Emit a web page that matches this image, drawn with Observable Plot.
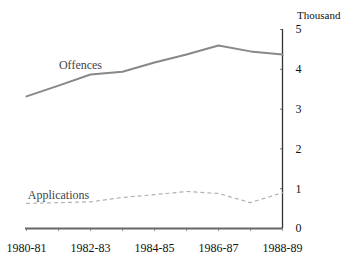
<!DOCTYPE html>
<html>
<head>
<meta charset="utf-8">
<script src="https://cdn.jsdelivr.net/npm/d3@7"></script>
<script src="https://cdn.jsdelivr.net/npm/@observablehq/plot@0.6"></script>
<style>
  html, body { margin: 0; padding: 0; background: #fff; }
  #chart { width: 343px; height: 255px; position: relative; }
  #unit { position: absolute; left: 297px; top: 8px; font-family: 'Times New Roman', 'Liberation Serif', serif; font-size: 11px; line-height: 14px; color: #111; }
  #chart svg text { font-family: 'Times New Roman', 'Liberation Serif', serif; }
</style>
</head>
<body>
<div id="chart"><div id="unit">Thousand</div></div>
<script>
const years = ["1980-81","1981-82","1982-83","1983-84","1984-85","1985-86","1986-87","1987-88","1988-89"];
const offences = [3.32, 3.59, 3.87, 3.94, 4.17, 4.37, 4.60, 4.45, 4.37];
const applications = [0.63, 0.65, 0.67, 0.78, 0.85, 0.93, 0.88, 0.65, 0.90];
const yTicks = [0, 1, 2, 3, 4, 5];
const xLabels = ["1980-81","1982-83","1984-85","1986-87","1988-89"];

const offData = years.map((y, i) => ({year: y, value: offences[i]}));
const appData = years.map((y, i) => ({year: y, value: applications[i]}));
const ff = "'Times New Roman', 'Liberation Serif', serif";

const chart = Plot.plot({
  width: 343,
  height: 255,
  marginLeft: 25,
  marginRight: 61,
  marginTop: 29,
  marginBottom: 27,
  style: {background: "transparent", color: "#111", fontFamily: ff, fontSize: "12px"},
  x: {type: "point", domain: years, padding: 0, label: null},
  y: {domain: [0, 5], label: null},
  marks: [
    Plot.axisX({ticks: years, tickSize: 3, tickFormat: () => "", stroke: "#999", label: null}),
    Plot.axisX({ticks: xLabels, tickSize: 0, tickPadding: 15, fontSize: 12, fontFamily: ff, label: null, fill: "#111"}),
    Plot.axisY({anchor: "right", ticks: yTicks, tickFormat: d => String(d), tickSize: -3, tickPadding: 16, fontSize: 12, fontFamily: ff, label: null, stroke: "#777", fill: "#111"}),
    Plot.ruleY([0], {stroke: "#666", strokeWidth: 2}),
    Plot.ruleX([years[years.length - 1]], {y1: 0, y2: 5, stroke: "#333", strokeWidth: 1.3}),
    Plot.line(appData, {x: "year", y: "value", stroke: "#b0b0b0", strokeWidth: 1.2, strokeDasharray: "3,4"}),
    Plot.line(offData, {x: "year", y: "value", stroke: "#888", strokeWidth: 2}),
    Plot.text(["Offences"], {x: () => "1981-82", y: () => 4.1, text: d => d, dx: 22, fontSize: 12, fontFamily: ff, fill: "#444"}),
    Plot.text(["Applications"], {x: () => "1981-82", y: () => 0.85, text: d => d, fontSize: 12, fontFamily: ff, fill: "#444"})
  ]
});
document.getElementById("chart").appendChild(chart);
</script>
</body>
</html>
